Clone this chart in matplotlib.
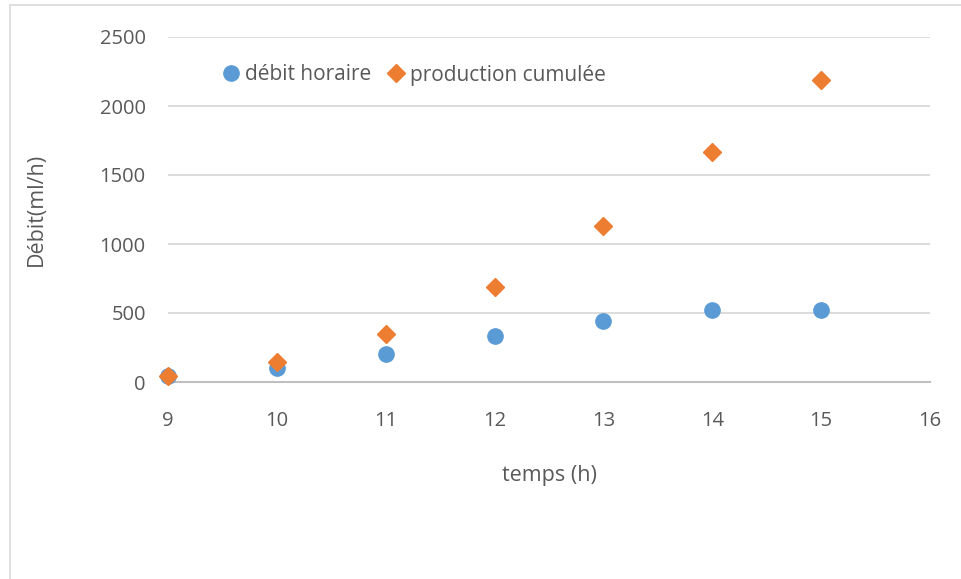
import matplotlib.pyplot as plt
import matplotlib.patches as mpatches

# ── Data ──────────────────────────────────────────────────────────────────────
heures        = [9, 10, 11, 12, 13, 14, 15]
debit_horaire = [40, 100, 205, 335, 445, 525, 522]
production    = [40, 145, 350, 685, 1130, 1665, 2190]

BLUE   = "#5B9BD5"
ORANGE = "#ED7D31"
TXT    = "#595959"
GRID   = "#D9D9D9"

plt.rcParams["font.family"] = ["Open Sans", "DejaVu Sans"]

fig = plt.figure(figsize=(9.61, 5.79), dpi=100)
ax = fig.add_axes([168 / 961, 1 - 382 / 579, (930 - 168) / 961, (382 - 37) / 579])

ax.plot(heures, debit_horaire, "o", color=BLUE, markersize=11, label="débit horaire",
        zorder=3, clip_on=False)
ax.plot(heures, production, "D", color=ORANGE, markersize=9, label="production cumulée",
        zorder=4, clip_on=False)

ax.set_xlim(9, 16)
ax.set_ylim(0, 2500)
ax.set_xticks(range(9, 17))
ax.set_yticks(range(0, 2501, 500))
ax.grid(axis="y", color=GRID, linewidth=1.3)
ax.set_axisbelow(True)

for s in ("top", "right", "left"):
    ax.spines[s].set_visible(False)
ax.spines["bottom"].set_color("#BFBFBF")
ax.spines["bottom"].set_linewidth(1.5)
ax.spines["bottom"].set_zorder(2)

ax.tick_params(axis="both", length=0, labelsize=14.5, colors=TXT)
ax.tick_params(axis="x", pad=21)
ax.tick_params(axis="y", pad=16)

ax.set_xlabel("temps (h)", fontsize=15.5, color=TXT, labelpad=24)
ax.set_ylabel("Débit(ml/h)", fontsize=15.5, color=TXT, labelpad=38)

ax.legend(loc="center left", bbox_to_anchor=(223 / 961, 1 - 75 / 579),
          bbox_transform=fig.transFigure, ncol=2, frameon=False,
          fontsize=15, labelcolor=TXT, handlelength=0.8, handletextpad=0.25,
          columnspacing=0.8, borderpad=0, borderaxespad=0)

# outer chart border
fig.patches.append(mpatches.Rectangle((10 / 961, -0.1), 1.0, 1 - 5 / 579 + 0.1,
                                      transform=fig.transFigure, fill=False,
                                      edgecolor=GRID, linewidth=1.2))

fig.savefig("out.png", dpi=100)
